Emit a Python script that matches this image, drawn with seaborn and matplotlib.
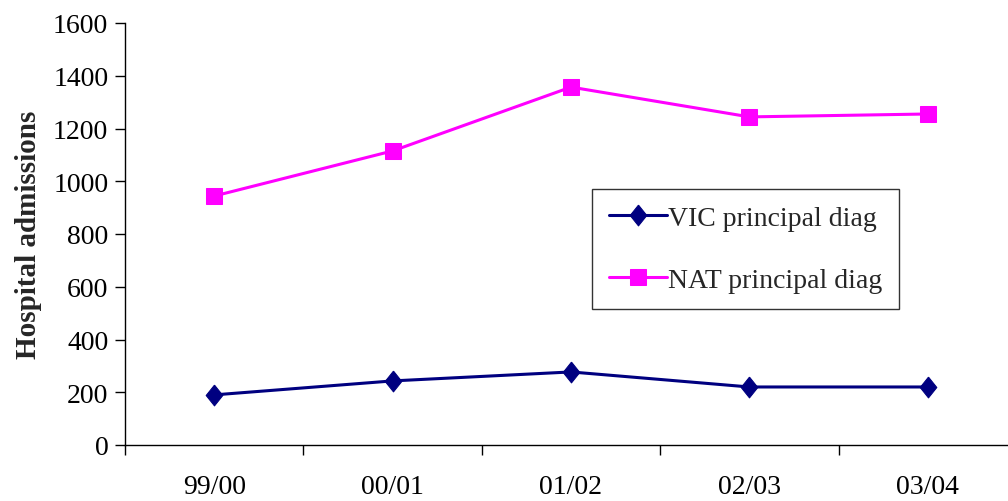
import matplotlib
matplotlib.use("Agg")
import matplotlib.pyplot as plt
from matplotlib.ticker import FixedLocator, NullFormatter
import seaborn as sns
import pandas as pd

years = ["99/00", "00/01", "01/02", "02/03", "03/04"]
vic_principal = [190, 243, 277, 220, 220]
nat_principal = [944, 1115, 1357, 1244, 1255]
series_names = ["VIC principal diag", "NAT principal diag"]

sns.set_theme(style="white")
plt.rcParams["font.family"] = ["Liberation Serif", "DejaVu Serif"]

df = pd.DataFrame({
    "pos": list(range(len(years))) * 2,
    "value": vic_principal + nat_principal,
    "series": [series_names[0]] * len(years) + [series_names[1]] * len(years),
})

fig = plt.figure(figsize=(10.08, 5.02), dpi=100)
ax = fig.add_axes([125 / 1008, 56 / 502, 892 / 1008, 422 / 502])

diamond = [(0, 1), (0.8, 0), (0, -1), (-0.8, 0), (0, 1)]
palette = {series_names[0]: "#000080", series_names[1]: "#FF00FF"}
markers = {series_names[0]: diamond, series_names[1]: "s"}
sizes_marker = {series_names[0]: 15, series_names[1]: 11}

for name in series_names:
    sub = df[df["series"] == name]
    sns.lineplot(data=sub, x="pos", y="value", ax=ax, color=palette[name],
                 marker=markers[name], markersize=sizes_marker[name],
                 markeredgecolor=palette[name], linewidth=2.2, label=name,
                 clip_on=False)

ax.set_xlim(-0.5, len(years) - 0.5)
ax.set_ylim(0, 1600)
ax.set_yticks(range(0, 1601, 200))

ax.xaxis.set_major_locator(FixedLocator(range(len(years))))
ax.set_xticklabels(years)
ax.xaxis.set_minor_locator(FixedLocator([i - 0.5 for i in range(len(years) + 1)]))
ax.xaxis.set_minor_formatter(NullFormatter())
ax.tick_params(axis="x", which="major", length=0, pad=21, labelsize=20, colors="black")
ax.tick_params(axis="x", which="minor", length=7, width=1, direction="out", color="black", bottom=True)
ax.tick_params(axis="y", which="major", length=7, width=1, direction="out", left=True,
               labelsize=20, colors="black", pad=5)

for side in ["top", "right"]:
    ax.spines[side].set_visible(False)
for side in ["left", "bottom"]:
    ax.spines[side].set_color("black")
    ax.spines[side].set_linewidth(1)

ax.set_xlabel("")
ax.set_ylabel("Hospital admissions", fontsize=21, fontweight="bold", labelpad=8)

leg = ax.legend(loc="upper left", bbox_to_anchor=(0.5235, 0.6066), borderaxespad=0,
                frameon=True, fancybox=False, fontsize=20, handlelength=2.1,
                labelspacing=1.3, borderpad=0.6, handletextpad=0.05)
leg.get_frame().set_edgecolor("black")
leg.get_frame().set_linewidth(1)

fig.savefig("out.png", dpi=100)
